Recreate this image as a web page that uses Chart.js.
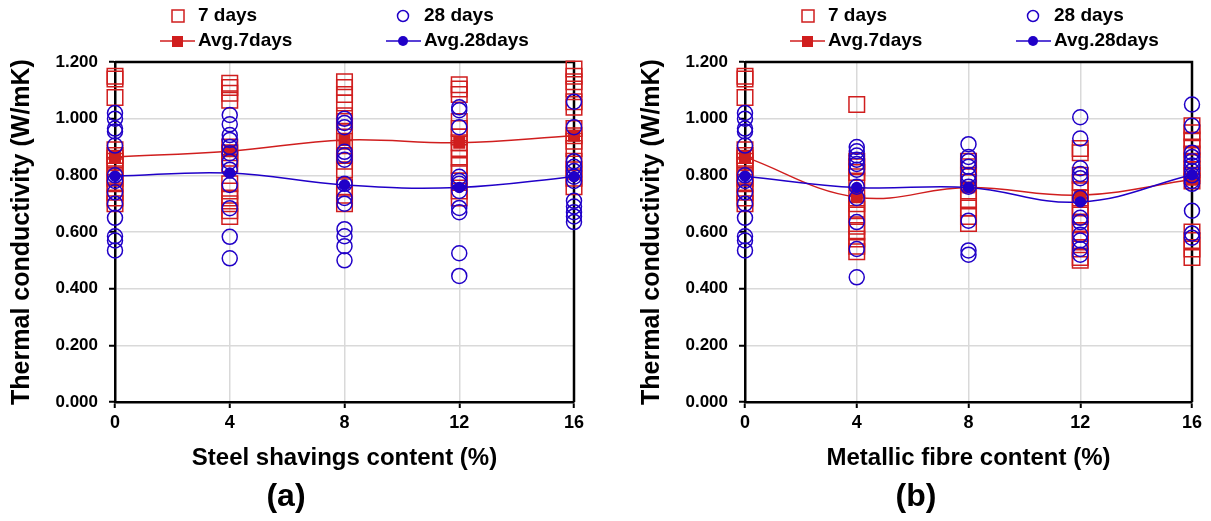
<!DOCTYPE html>
<html>
<head>
<meta charset="utf-8">
<script src="https://cdn.jsdelivr.net/npm/chart.js@4.4.1/dist/chart.umd.min.js"></script>
<style>
  html, body { margin: 0; padding: 0; background: #fff; }
  #wrap { position: relative; width: 1211px; height: 521px; overflow: hidden; }
  .panel { position: absolute; top: 0; height: 521px; }
  #panelA { left: 0; width: 600px; }
  #panelB { left: 630px; width: 581px; }
</style>
</head>
<body>
<div id="wrap">
  <div class="panel" id="panelA"><canvas id="chartA" width="600" height="521"></canvas></div>
  <div class="panel" id="panelB"><canvas id="chartB" width="581" height="521"></canvas></div>
</div>
<script>
// Addition content (%) used on the x axis of both panels
const contentPct = [0, 4, 8, 12, 16];
const xTicks = [0, 4, 8, 12, 16];
const yTicks = [0, 0.2, 0.4, 0.6, 0.8, 1.0, 1.2];

// Control mix (0 %) is shared by both panels
const control7d = [1.15, 1.14, 1.075, 0.89, 0.87, 0.86, 0.85, 0.83, 0.80, 0.79, 0.77, 0.74, 0.72, 0.70];
const control28d = [1.02, 1.00, 0.965, 0.955, 0.905, 0.80, 0.78, 0.74, 0.70, 0.65, 0.585, 0.57, 0.535];

// (a) steel shavings, one array per content level after the control
const shavings7d = [
    control7d,
    [1.125, 1.11, 1.09, 1.065, 0.90, 0.88, 0.86, 0.84, 0.77, 0.745, 0.72, 0.70, 0.675, 0.655],
    [1.13, 1.11, 1.085, 1.055, 1.01, 0.99, 0.95, 0.92, 0.87, 0.85, 0.82, 0.76, 0.73, 0.70],
    [1.12, 1.105, 1.085, 0.99, 0.965, 0.935, 0.915, 0.895, 0.86, 0.835, 0.81, 0.78, 0.745, 0.72],
    [1.175, 1.15, 1.13, 1.105, 1.06, 1.04, 0.965, 0.94, 0.92, 0.895, 0.85, 0.82, 0.79, 0.76]
];
const shavings28d = [
    control28d,
    [1.013, 0.98, 0.942, 0.925, 0.90, 0.878, 0.848, 0.82, 0.766, 0.684, 0.583, 0.507],
    [1.0, 0.985, 0.97, 0.883, 0.87, 0.855, 0.77, 0.72, 0.70, 0.61, 0.585, 0.55, 0.50],
    [1.04, 1.03, 0.97, 0.795, 0.78, 0.77, 0.745, 0.685, 0.67, 0.525, 0.445],
    [1.06, 0.97, 0.85, 0.83, 0.815, 0.795, 0.78, 0.71, 0.69, 0.67, 0.655, 0.635]
];
const shavingsAvg7d = [0.865, 0.885, 0.925, 0.915, 0.94];
const shavingsAvg28d = [0.797, 0.808, 0.766, 0.757, 0.795];

// (b) metallic fibre
const fibre7d = [
    control7d,
    [1.05, 0.85, 0.83, 0.81, 0.78, 0.72, 0.70, 0.68, 0.66, 0.62, 0.60, 0.575, 0.55, 0.53],
    [0.85, 0.83, 0.80, 0.775, 0.745, 0.715, 0.685, 0.655, 0.63],
    [0.895, 0.88, 0.80, 0.775, 0.75, 0.72, 0.69, 0.66, 0.63, 0.60, 0.57, 0.54, 0.51, 0.50],
    [0.975, 0.95, 0.925, 0.90, 0.875, 0.85, 0.82, 0.80, 0.78, 0.60, 0.57, 0.54, 0.51]
];
const fibre28d = [
    control28d,
    [0.90, 0.885, 0.87, 0.855, 0.84, 0.82, 0.76, 0.72, 0.635, 0.54, 0.44],
    [0.91, 0.865, 0.85, 0.83, 0.80, 0.78, 0.76, 0.64, 0.535, 0.52],
    [1.005, 0.93, 0.825, 0.805, 0.79, 0.72, 0.65, 0.635, 0.59, 0.57, 0.54, 0.52],
    [1.05, 0.975, 0.88, 0.865, 0.85, 0.835, 0.815, 0.80, 0.78, 0.77, 0.675, 0.595, 0.58]
];
const fibreAvg7d = [0.865, 0.723, 0.757, 0.730, 0.785];
const fibreAvg28d = [0.797, 0.757, 0.757, 0.706, 0.802];

const RED = '#d01e1e';
const BLUE = '#2000c8';
const FONT = "'Liberation Sans', Arial, sans-serif";

Chart.defaults.font.family = FONT;
Chart.defaults.font.weight = 'bold';
Chart.defaults.color = '#000';

function scatterPoints(groups) {
    const pts = [];
    groups.forEach((vals, i) => vals.forEach(v => pts.push({ x: contentPct[i], y: v })));
    return pts;
}

function avgPoints(vals) {
    return contentPct.map((x, i) => ({ x, y: vals[i] }));
}

// frame on top/right, legend block and panel letter
const panelDecor = {
    id: 'panelDecor',
    beforeDatasetsDraw(chart) {
        const { ctx, chartArea: a } = chart;
        ctx.save();
        ctx.strokeStyle = '#000';
        ctx.lineWidth = 2.5;
        ctx.beginPath();
        ctx.moveTo(a.left, a.top);
        ctx.lineTo(a.right, a.top);
        ctx.lineTo(a.right, a.bottom);
        ctx.stroke();
        ctx.restore();
    },
    afterDraw(chart, args, opts) {
        const ctx = chart.ctx;
        ctx.save();
        ctx.lineWidth = 1.5;

        // open markers
        ctx.strokeStyle = RED;
        ctx.strokeRect(172, 10, 12, 12);
        ctx.strokeStyle = BLUE;
        ctx.beginPath();
        ctx.arc(403, 16, 5.5, 0, Math.PI * 2);
        ctx.stroke();

        // line + filled markers
        ctx.strokeStyle = RED;
        ctx.beginPath();
        ctx.moveTo(160, 41);
        ctx.lineTo(195, 41);
        ctx.stroke();
        ctx.fillStyle = RED;
        ctx.fillRect(172, 36, 11, 11);
        ctx.strokeStyle = BLUE;
        ctx.beginPath();
        ctx.moveTo(386, 41);
        ctx.lineTo(421, 41);
        ctx.stroke();
        ctx.fillStyle = BLUE;
        ctx.beginPath();
        ctx.arc(403, 41, 5, 0, Math.PI * 2);
        ctx.fill();

        ctx.fillStyle = '#000';
        ctx.font = `bold 19px ${FONT}`;
        ctx.textBaseline = 'middle';
        ctx.textAlign = 'left';
        ctx.fillText('7 days', 198, 16);
        ctx.fillText('28 days', 424, 16);
        ctx.fillText('Avg.7days', 198, 41);
        ctx.fillText('Avg.28days', 424, 41);

        ctx.font = `bold 32px ${FONT}`;
        ctx.textAlign = 'center';
        ctx.fillText(opts.letter, 286, 497);
        ctx.restore();
    }
};

function buildChart(canvasId, cfg) {
    const ctx = document.getElementById(canvasId).getContext('2d');
    return new Chart(ctx, {
        type: 'scatter',
        data: {
            datasets: [
                {
                    label: '7 days',
                    data: scatterPoints(cfg.series7d),
                    pointStyle: 'rect',
                    pointRadius: 11,
                    pointBorderWidth: 1.5,
                    borderColor: RED,
                    backgroundColor: 'rgba(0,0,0,0)',
                    clip: false,
                    order: 4
                },
                {
                    label: 'Avg.7days',
                    data: avgPoints(cfg.avg7d),
                    showLine: true,
                    tension: 0.4,
                    borderColor: RED,
                    borderWidth: 1.5,
                    pointStyle: 'rect',
                    pointRadius: 7.5,
                    pointBackgroundColor: RED,
                    pointBorderColor: RED,
                    clip: false,
                    order: 3
                },
                {
                    label: '28 days',
                    data: scatterPoints(cfg.series28d),
                    pointStyle: 'circle',
                    pointRadius: 7.5,
                    pointBorderWidth: 1.5,
                    borderColor: BLUE,
                    backgroundColor: 'rgba(0,0,0,0)',
                    clip: false,
                    order: 2
                },
                {
                    label: 'Avg.28days',
                    data: avgPoints(cfg.avg28d),
                    showLine: true,
                    tension: 0.4,
                    borderColor: BLUE,
                    borderWidth: 1.5,
                    pointStyle: 'circle',
                    pointRadius: 5,
                    pointBackgroundColor: BLUE,
                    pointBorderColor: BLUE,
                    clip: false,
                    order: 1
                }
            ]
        },
        options: {
            responsive: false,
            animation: false,
            layout: { padding: { top: 62, right: cfg.padRight, left: 0, bottom: 0 } },
            plugins: {
                legend: { display: false },
                tooltip: { enabled: false },
                panelDecor: { letter: cfg.letter }
            },
            scales: {
                x: {
                    type: 'linear',
                    min: 0,
                    max: 16,
                    afterBuildTicks: s => { s.ticks = xTicks.map(v => ({ value: v })); },
                    afterFit: s => { s.height = 119; },
                    grid: { color: '#d9d9d9', lineWidth: 1.5, tickColor: '#000', tickLength: 6, tickWidth: 2 },
                    border: { color: '#000', width: 2.5 },
                    ticks: { font: { size: 18 }, padding: 4 },
                    title: {
                        display: true,
                        text: cfg.xTitle,
                        font: { size: 24 },
                        padding: { top: 0, bottom: 48 }
                    }
                },
                y: {
                    min: 0,
                    max: 1.2,
                    afterBuildTicks: s => { s.ticks = yTicks.map(v => ({ value: v })); },
                    afterFit: s => { s.width = 115; },
                    grid: { color: '#d9d9d9', lineWidth: 1.5, tickColor: '#000', tickLength: 6, tickWidth: 2 },
                    border: { color: '#000', width: 2.5 },
                    ticks: { font: { size: 17 }, padding: 11, callback: v => v.toFixed(3) },
                    title: {
                        display: true,
                        text: 'Thermal conductivity (W/mK)',
                        font: { size: 25 },
                        padding: { top: 7, bottom: 0 }
                    }
                }
            }
        },
        plugins: [panelDecor]
    });
}

buildChart('chartA', {
    series7d: shavings7d,
    series28d: shavings28d,
    avg7d: shavingsAvg7d,
    avg28d: shavingsAvg28d,
    xTitle: 'Steel shavings content (%)',
    letter: '(a)',
    padRight: 26
});

buildChart('chartB', {
    series7d: fibre7d,
    series28d: fibre28d,
    avg7d: fibreAvg7d,
    avg28d: fibreAvg28d,
    xTitle: 'Metallic fibre content (%)',
    letter: '(b)',
    padRight: 19
});
</script>
</body>
</html>
